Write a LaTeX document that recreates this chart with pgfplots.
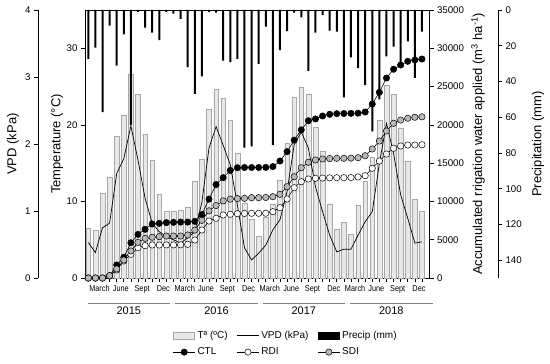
\documentclass[border=0pt]{standalone}
\usepackage{pgfplots}
\usepackage{pgfplotstable}
\pgfplotsset{compat=1.18}
\usepackage{fontspec}
\setmainfont{Liberation Sans}
\setsansfont{Liberation Sans}
\newfontfamily\narrowfont[FakeStretch=0.85]{Liberation Sans}
\definecolor{tempfill}{HTML}{E8E8E8}
\definecolor{tempdraw}{HTML}{A8A8A8}
\definecolor{sdifill}{HTML}{B8B8B8}

\pgfplotstableread{
m T V P C R S
1 6.5 0.53 27.3 0 0 0
2 6.2 0.38 21.0 0 0 0
3 11.1 0.75 57.1 0 0 0
4 13.2 0.82 8.7 300 250 300
5 18.5 1.56 31.2 1700 1050 1180
6 21.3 1.78 13.6 2700 2220 2350
7 26.6 2.27 64.5 4600 3090 3530
8 24.0 1.76 1.0 5700 3960 4660
9 18.8 1.19 9.9 6360 4220 5180
10 15.4 0.82 12.6 7050 4310 5320
11 10.9 0.69 16.9 7140 4310 5400
12 8.75 0.62 1.0 7230 4320 5480
13 8.7 0.57 2.0 7270 4320 5480
14 8.9 0.52 5.0 7300 4330 5480
15 9.3 0.60 32.0 7300 4400 5620
16 12.7 0.69 47.0 7400 4960 6250
17 15.5 1.13 37.2 8300 6270 7530
18 22.1 1.94 1.0 10300 7440 8770
19 24.6 2.26 1.5 12200 7800 9470
20 23.5 1.98 28.4 13100 8230 10070
21 20.6 1.69 29.2 14050 8320 10300
22 16.3 1.09 27.4 14400 8400 10370
23 9.8 0.45 77.0 14430 8430 10400
24 7.7 0.27 76.3 14430 8450 10490
25 5.5 0.37 30.2 14430 8450 10490
26 8.0 0.49 9.3 14450 8460 10520
27 9.6 0.72 75.7 14550 8660 10620
28 12.8 0.87 22.4 15280 9180 10930
29 17.6 1.29 11.8 16500 10320 11920
30 23.6 1.99 1.5 18000 11790 13230
31 24.9 2.18 4.1 19350 12580 14400
32 24.0 1.94 34.1 20540 12930 15110
33 19.7 1.36 12.7 20770 13020 15410
34 16.5 0.99 2.8 21160 13050 15540
35 9.7 0.64 11.6 21380 13080 15600
36 6.4 0.39 12.1 21460 13100 15630
37 7.3 0.43 48.9 21480 13100 15630
38 5.7 0.43 26.5 21500 13120 15650
39 9.5 0.64 32.6 21520 13190 15710
40 12.7 0.84 42.0 21680 13360 15970
41 15.8 0.99 68.0 22720 14330 16850
42 20.6 1.71 50.0 24250 15280 17890
43 25.2 2.31 26.0 26120 16190 19200
44 24.0 1.86 20.5 27260 16940 20200
45 19.5 1.24 30.0 27820 17240 20630
46 15.3 0.89 17.5 28300 17370 20860
47 10.3 0.52 38.0 28470 17370 20990
48 8.7 0.54 12.1 28600 17400 21050
}\data

\pgfplotsset{
  base/.style={scale only axis, width=344.5pt, height=268pt,
    at={(0pt,0pt)}, anchor=south west, xmin=0.535, xmax=49.06},
  every axis/.append style={
    scaled x ticks=false, scaled y ticks=false,
    tick label style={font=\fontsize{9.7}{11}\selectfont},
    axis line style={line width=0.6pt},
    tick style={line width=0.6pt, black},
    major tick length=4pt},
  boxleg/.style={legend image code/.code={\draw[##1] (0pt,-3.5pt) rectangle (21pt,3.5pt);}},
  lineleg/.style={legend image code/.code={\draw[##1] (0pt,0pt) -- (22pt,0pt);}},
  markleg/.style={legend image code/.code={\draw[##1, mark repeat=2, mark phase=2] plot coordinates {(0pt,0pt) (11pt,0pt) (22pt,0pt)};}},
}
\newcommand{\axlab}{\fontsize{13}{15}\selectfont}

\begin{document}
\begin{tikzpicture}
\useasboundingbox (-85pt,-86pt) rectangle (465pt,278pt);

% main axis: temperature bars + box
\begin{axis}[base, clip=false,
  ymin=0, ymax=35,
  ytick={0,10,20,30}, yticklabels={0,10,20,30},
  xtick={1,...,48},
  xticklabels={,,March,,,June,,,Sept,,,Dec,,,March,,,June,,,Sept,,,Dec,,,March,,,June,,,Sept,,,Dec,,,March,,,June,,,Sept,,,Dec},
  xtick pos=left, ytick pos=left, tick align=outside,
  xticklabel style={font=\narrowfont\fontsize{8.6}{9}\selectfont, xshift=-3pt},
]
\addplot[ybar, bar width=4.7pt, fill=tempfill, draw=tempdraw, line width=0.4pt] table[x=m,y=T]{\data};
% year brackets
\draw[gray, line width=0.8pt] ([yshift=-25pt]axis cs:0.915,0) -- ([yshift=-25pt]axis cs:12.51,0);
\draw[gray, line width=0.8pt] ([yshift=-25pt]axis cs:13.21,0) -- ([yshift=-25pt]axis cs:24.9,0);
\draw[gray, line width=0.8pt] ([yshift=-25pt]axis cs:25.56,0) -- ([yshift=-25pt]axis cs:37.15,0);
\draw[gray, line width=0.8pt] ([yshift=-25pt]axis cs:37.86,0) -- ([yshift=-25pt]axis cs:49.5,0);
\node[font=\fontsize{11}{13}\selectfont] at ([yshift=-33pt]axis cs:6.71,0) {2015};
\node[font=\fontsize{11}{13}\selectfont] at ([yshift=-33pt]axis cs:19.06,0) {2016};
\node[font=\fontsize{11}{13}\selectfont] at ([yshift=-33pt]axis cs:31.36,0) {2017};
\node[font=\fontsize{11}{13}\selectfont] at ([yshift=-33pt]axis cs:43.68,0) {2018};
% axis labels
\node[rotate=90, font=\axlab] at ([xshift=-28pt]rel axis cs:0,0.5) {Temperature (°C)};
\node[rotate=90, font=\axlab] at ([xshift=-72pt]rel axis cs:0,0.5) {VPD (kPa)};
\node[rotate=90, font=\axlab] at ([xshift=48.5pt]rel axis cs:1,0.5) {Accumulated rrigation water applied (m\textsuperscript{3} ha\textsuperscript{-1})};
\node[rotate=90, font=\axlab] at ([xshift=108.5pt]rel axis cs:1,0.5) {Precipitation (mm)};
\end{axis}

% precipitation bars (reversed)
\begin{axis}[base, hide axis, ymin=0, ymax=150, y dir=reverse]
\addplot[ybar, bar width=2pt, fill=black, draw=none] table[x=m,y=P]{\data};
\end{axis}

% VPD line
\begin{axis}[base, hide axis, ymin=0, ymax=4]
\addplot[black, line width=0.7pt, no marks] table[x=m,y=V]{\data};
\end{axis}

% irrigation
\begin{axis}[base, ymin=0, ymax=35000,
  axis x line=none, axis y line*=right, tick align=outside,
  ytick={0,5000,10000,15000,20000,25000,30000,35000},
  yticklabels={0,5000,10000,15000,20000,25000,30000,35000},
  legend columns=3,
  legend style={at={(0.2546,-0.19)}, anchor=north west, draw=none, fill=none,
    font=\fontsize{10}{12}\selectfont, inner sep=0pt, row sep=4pt,
    /tikz/every even column/.append style={column sep=7pt}},
  legend cell align=left,
]
\addlegendimage{boxleg, fill=tempfill, draw=tempdraw, line width=0.5pt}
\addlegendentry{Tª (ºC)}
\addlegendimage{lineleg, black, line width=0.7pt}
\addlegendentry{VPD (kPa)}
\addlegendimage{boxleg, fill=black, draw=black}
\addlegendentry{Precip (mm)}
\addplot[markleg, black, line width=0.6pt, mark=*, mark size=3.2pt, mark options={fill=black, draw=black, line width=0.5pt}]
  table[x=m,y=C]{\data};
\addlegendentry{CTL}
\addplot[markleg, black, line width=0.6pt, mark=*, mark size=3.2pt, mark options={fill=white, draw=black, line width=0.5pt}]
  table[x=m,y=R]{\data};
\addlegendentry{RDI}
\addplot[markleg, black, line width=0.6pt, mark=*, mark size=3.2pt, mark options={fill=sdifill, draw=black, line width=0.5pt}]
  table[x=m,y=S]{\data};
\addlegendentry{SDI}
\end{axis}

% outer VPD axis
\begin{axis}[scale only axis, width=10pt, height=268pt, at={(-47pt,0pt)}, anchor=south west,
  xmin=0, xmax=1, ymin=0, ymax=4, axis x line=none, axis y line*=left, tick align=outside,
  ytick={0,1,2,3,4}, yticklabels={0,1,2,3,4}]
\addplot[draw=none] coordinates {(0,0)};
\end{axis}

% outer precipitation axis
\begin{axis}[scale only axis, width=10pt, height=268pt, at={(413pt,0pt)}, anchor=south east,
  xmin=0, xmax=1, ymin=0, ymax=150, y dir=reverse, axis x line=none, axis y line*=right, tick align=outside,
  ytick={0,20,40,60,80,100,120,140}, yticklabels={0,20,40,60,80,100,120,140}]
\addplot[draw=none] coordinates {(0,0)};
\end{axis}
\end{tikzpicture}
\end{document}
